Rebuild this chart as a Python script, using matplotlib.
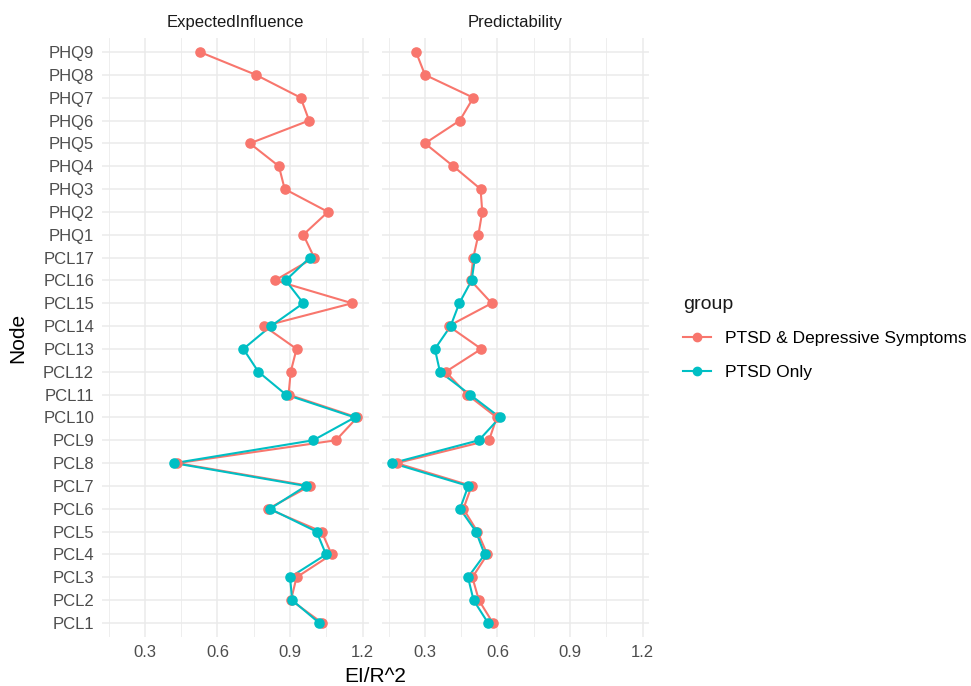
import matplotlib
matplotlib.use("Agg")
import matplotlib.pyplot as plt

plt.rcParams['font.family'] = ['Liberation Sans', 'DejaVu Sans']

nodes = ["PCL1", "PCL2", "PCL3", "PCL4", "PCL5", "PCL6", "PCL7", "PCL8", "PCL9",
         "PCL10", "PCL11", "PCL12", "PCL13", "PCL14", "PCL15", "PCL16", "PCL17",
         "PHQ1", "PHQ2", "PHQ3", "PHQ4", "PHQ5", "PHQ6", "PHQ7", "PHQ8", "PHQ9"]
pcl_nodes = nodes[:17]

# ExpectedInfluence
ei_dep = [1.033, 0.904, 0.927, 1.072, 1.031, 0.810, 0.982, 0.434, 1.090,
          1.178, 0.894, 0.903, 0.927, 0.793, 1.157, 0.838, 1.000,
          0.955, 1.057, 0.878, 0.854, 0.734, 0.979, 0.944, 0.759, 0.527]
ei_ptsd = [1.021, 0.909, 0.900, 1.049, 1.010, 0.817, 0.966, 0.421, 0.996,
           1.168, 0.883, 0.769, 0.707, 0.821, 0.955, 0.882, 0.982]

# Predictability
pr_dep = [0.581, 0.523, 0.496, 0.558, 0.517, 0.459, 0.493, 0.183, 0.565,
          0.597, 0.475, 0.386, 0.533, 0.398, 0.576, 0.489, 0.500,
          0.521, 0.537, 0.530, 0.417, 0.300, 0.444, 0.500, 0.300, 0.263]
pr_ptsd = [0.561, 0.501, 0.478, 0.547, 0.511, 0.445, 0.479, 0.165, 0.523,
           0.610, 0.486, 0.362, 0.341, 0.406, 0.442, 0.493, 0.507]

groups = ["PTSD & Depressive Symptoms", "PTSD Only"]
colors = ["#F8766D", "#00BFC4"]
panels = [("ExpectedInfluence", ei_dep, ei_ptsd), ("Predictability", pr_dep, pr_ptsd)]

fig = plt.figure(figsize=(9.71, 6.86), dpi=100)
W, H = 971, 686
y_pos = {n: i + 1 for i, n in enumerate(nodes)}

axes = []
for k, (title, dep, ptsd) in enumerate(panels):
    left = [101.7, 381.7][k]
    ax = fig.add_axes([left / W, 49.3 / H, 267.6 / W, 598.4 / H])
    axes.append(ax)
    yd = [y_pos[n] for n in nodes]
    yp = [y_pos[n] for n in pcl_nodes]
    ax.plot(dep, yd, color=colors[0], lw=1.5, zorder=3)
    ax.plot(ptsd, yp, color=colors[1], lw=1.5, zorder=3)
    ax.plot(dep, yd, 'o', color=colors[0], ms=6.6, zorder=4)
    ax.plot(ptsd, yp, 'o', color=colors[1], ms=6.6, zorder=4)
    ax.set_xlim(0.121, 1.228)
    ax.set_ylim(0.4, 26.6)
    ax.set_xticks([0.3, 0.6, 0.9, 1.2])
    ax.set_xticks([0.15, 0.45, 0.75, 1.05], minor=True)
    ax.set_yticks(range(1, 27))
    ax.grid(True, which='major', color='#EBEBEB', lw=1.1, zorder=0)
    ax.grid(True, which='minor', axis='x', color='#EBEBEB', lw=0.6, zorder=0)
    for s in ax.spines.values():
        s.set_visible(False)
    ax.tick_params(length=0, labelsize=12, colors='#4D4D4D')
    ax.tick_params(axis='y', pad=5.5)
    ax.tick_params(axis='x', pad=6)
    ax.tick_params(which='minor', length=0)
    ax.set_xticklabels(["0.3", "0.6", "0.9", "1.2"])
    if k == 0:
        ax.set_yticklabels(nodes)
    else:
        ax.set_yticklabels([])
    ax.set_title(title, fontsize=12, color='#1A1A1A', pad=8)
    ax.set_facecolor('none')

fig.text(375 / W, 1 - 676 / H, "EI/R^2", ha='center', va='center', fontsize=15)
fig.text(18 / W, 1 - 338 / H, "Node", ha='center', va='center', rotation=90, fontsize=15)

handles = [plt.Line2D([], [], color=c, lw=1.5, marker='o', ms=6) for c in colors]
leg = fig.legend(handles, groups, title="group", loc='upper left',
                 bbox_to_anchor=(676 / W, 1 - 289 / H), frameon=False,
                 fontsize=12.5, title_fontsize=14, handlelength=1.6,
                 labelspacing=1.05, handletextpad=0.8, borderaxespad=0)
leg._legend_box.align = "left"
leg.get_title().set_color('#1A1A1A')

fig.savefig("out.png", dpi=100, facecolor='white')
